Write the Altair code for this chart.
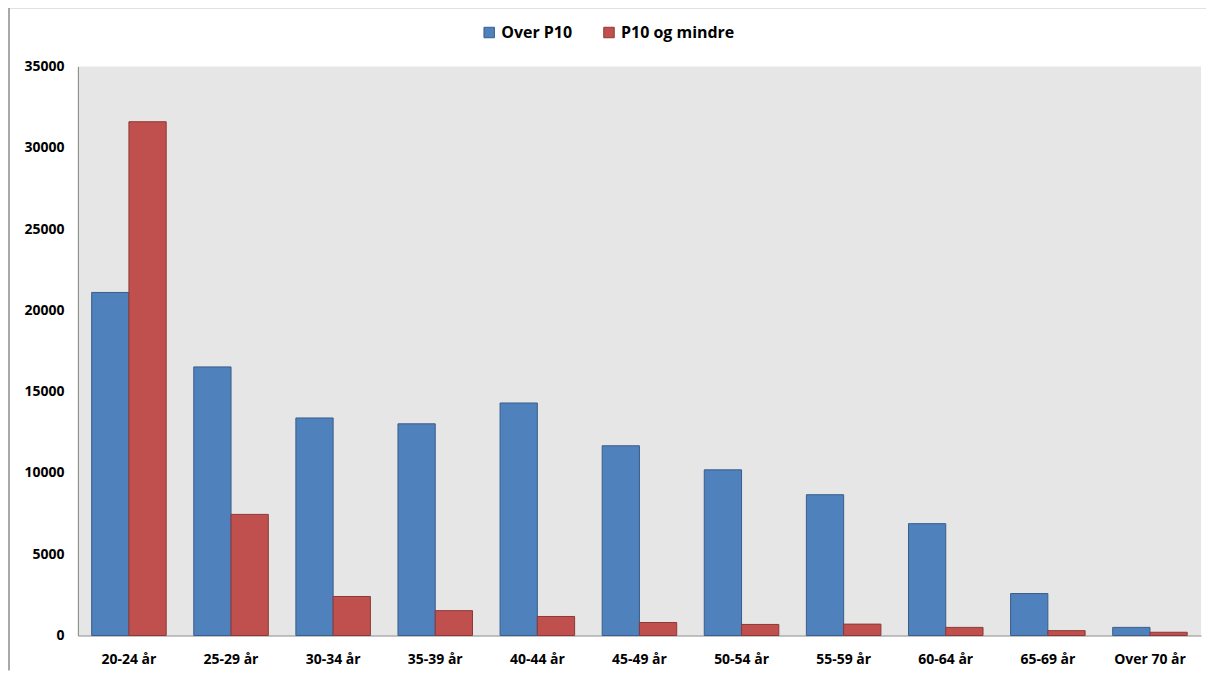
import altair as alt
import pandas as pd

categories = ["20-24 år", "25-29 år", "30-34 år", "35-39 år", "40-44 år", "45-49 år",
              "50-54 år", "55-59 år", "60-64 år", "65-69 år", "Over 70 år"]
over_p10 = [21100, 16520, 13380, 13020, 14300, 11670, 10190, 8660, 6880, 2580, 500]
p10_og_mindre = [31600, 7450, 2400, 1530, 1170, 800, 680, 700, 500, 300, 200]
series = ["Over P10", "P10 og mindre"]

rows = []
for c, a, b in zip(categories, over_p10, p10_og_mindre):
    rows.append({"kategori": c, "serie": series[0], "verdi": a})
    rows.append({"kategori": c, "serie": series[1], "verdi": b})
df = pd.DataFrame(rows)

W, H = 1125, 570
font = "Open Sans"

bars = alt.Chart(df).mark_bar(strokeWidth=1).encode(
    x=alt.X("kategori:N", sort=categories, title=None,
            scale=alt.Scale(paddingInner=0.27, paddingOuter=0.135),
            axis=alt.Axis(labelAngle=0, labelFont=font, labelFontWeight="bold",
                          labelFontSize=14, labelColor="#000000", labelPadding=17,
                          ticks=False, domainColor="#868686")),
    xOffset=alt.XOffset("serie:N", sort=series),
    y=alt.Y("verdi:Q", title=None,
            scale=alt.Scale(domain=[0, 35000], nice=False),
            axis=alt.Axis(values=list(range(0, 35001, 5000)), grid=False, ticks=False,
                          labelFont=font, labelFontWeight="bold", labelFontSize=14,
                          labelColor="#000000", labelPadding=14, domainColor="#868686",
                          format="d")),
    color=alt.Color("serie:N", sort=series,
                    scale=alt.Scale(domain=series, range=["#4F81BD", "#C0504D"]),
                    legend=alt.Legend(title=None, orient="none", direction="horizontal",
                                      legendX=404, legendY=-42, symbolType="square",
                                      symbolSize=110, symbolStrokeWidth=1,
                                      labelFont=font, labelFontWeight="bold",
                                      labelFontSize=16, labelColor="#000000",
                                      columnPadding=28, symbolOffset=0)),
    stroke=alt.Stroke("serie:N", sort=series,
                      scale=alt.Scale(domain=series, range=["#385D8A", "#8C3836"]),
                      legend=None),
)

frame_df = pd.DataFrame({"k": [0]})
top_rule = alt.Chart(frame_df).mark_rule(color="#8C8C8C", strokeWidth=1.5).encode(
    x=alt.value(-69), x2=alt.value(W + 8), y=alt.value(-59))
left_rule = alt.Chart(frame_df).mark_rule(color="#8C8C8C", strokeWidth=1.5).encode(
    x=alt.value(-69), y=alt.value(-59), y2=alt.value(H + 35))

chart = alt.layer(top_rule, left_rule, bars).properties(
    width=W, height=H,
    autosize=alt.AutoSizeParams(type="none"),
    padding={"left": 70, "top": 58, "right": 5, "bottom": 35},
    background="#FFFFFF",
).configure_view(fill="#E6E6E6", stroke=None)

chart.save("out.html", embed_options={"renderer": "svg", "actions": False})
